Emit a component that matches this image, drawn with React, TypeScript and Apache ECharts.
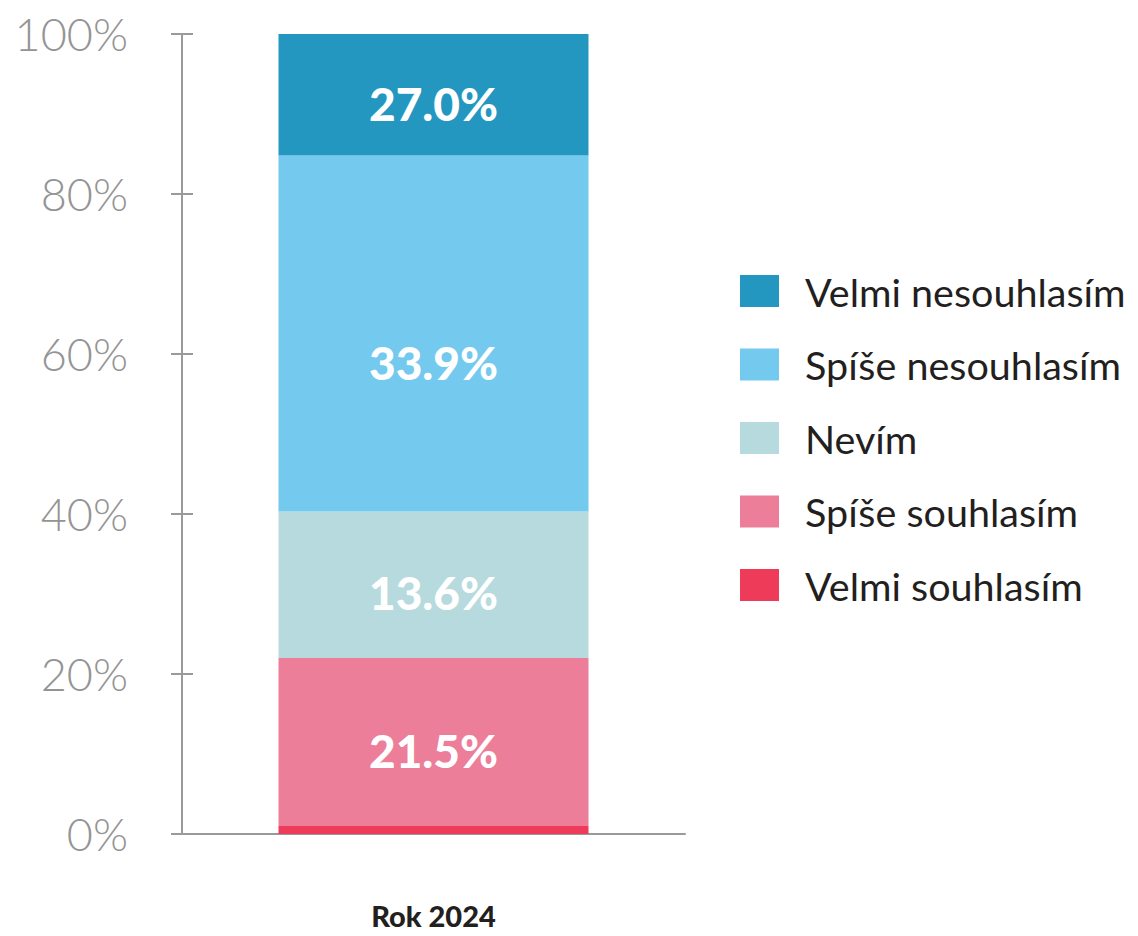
import React, { useEffect, useRef } from "react";
import * as echarts from "echarts";

const categories = ["Rok 2024"];
const seriesNames = [
  "Velmi souhlasím",
  "Spíše souhlasím",
  "Nevím",
  "Spíše nesouhlasím",
  "Velmi nesouhlasím",
];
const values = [1.0, 21.0, 18.3, 44.5, 15.2];
const labelTexts = ["", "21.5%", "13.6%", "33.9%", "27.0%"];
const colors = ["#EF3B5A", "#EC7E99", "#B7DADE", "#74C9EF", "#2497C0"];
const labelOffsets = [[0, 0], [0, 8], [0, 8], [0, 29], [0, 9]];
const yTicks = [0, 20, 40, 60, 80, 100];

export default function App() {
  const ref = useRef<HTMLDivElement>(null);
  useEffect(() => {
    if (!ref.current) return;
    const chart = echarts.init(ref.current, undefined, { renderer: "svg" });
    const axisColor = "#9a9a9a";
    chart.setOption({
      animation: false,
      grid: { left: 182, right: 453, top: 34, bottom: 102, containLabel: false },
      legend: {
        orient: "vertical",
        left: 735,
        top: 266,
        icon: "rect",
        itemWidth: 39,
        itemHeight: 32,
        itemGap: 33.5,
        data: [...seriesNames].reverse(),
        textStyle: {
          fontFamily: "Lato",
          fontSize: 39.5,
          color: "#231f20",
          lineHeight: 40,
          padding: [0, 0, 0, 21],
        },
        selectedMode: false,
      },
      xAxis: {
        type: "category",
        data: categories,
        axisLine: { show: true, lineStyle: { color: axisColor, width: 2 } },
        axisTick: { show: false },
        axisLabel: {
          margin: 66,
          fontFamily: "Lato",
          fontWeight: 900,
          fontSize: 29,
          color: "#231f20",
          lineHeight: 30,
        },
      },
      yAxis: [
        {
          type: "value",
          min: 0,
          max: 100,
          interval: 20,
          splitLine: { show: false },
          axisLine: { show: true, lineStyle: { color: axisColor, width: 2 } },
          axisTick: { show: true, length: 11, lineStyle: { color: axisColor, width: 2 } },
          axisLabel: {
            margin: 54,
            fontFamily: "Lato",
            fontWeight: 300,
            fontSize: 45,
            color: "#949494",
            formatter: (v: number) => (yTicks.includes(v) ? v + "%" : ""),
          },
        },
        {
          type: "value",
          min: 0,
          max: 100,
          interval: 20,
          position: "left",
          splitLine: { show: false },
          axisLine: { show: false },
          axisTick: { show: true, inside: true, length: 11, lineStyle: { color: axisColor, width: 2 } },
          axisLabel: { show: false },
        },
      ],
      series: seriesNames.map((name, i) => ({
        name,
        type: "bar",
        stack: "total",
        yAxisIndex: 0,
        barWidth: 310,
        itemStyle: { color: colors[i] },
        label: {
          show: labelTexts[i] !== "",
          position: "inside",
          offset: labelOffsets[i],
          formatter: () => labelTexts[i],
          fontFamily: "Lato",
          fontWeight: 900,
          fontSize: 46,
          color: "#ffffff",
        },
        data: [values[i]],
      })),
    });
    return () => chart.dispose();
  }, []);
  return <div ref={ref} style={{ width: 1138, height: 936, margin: -8 }} />;
}
